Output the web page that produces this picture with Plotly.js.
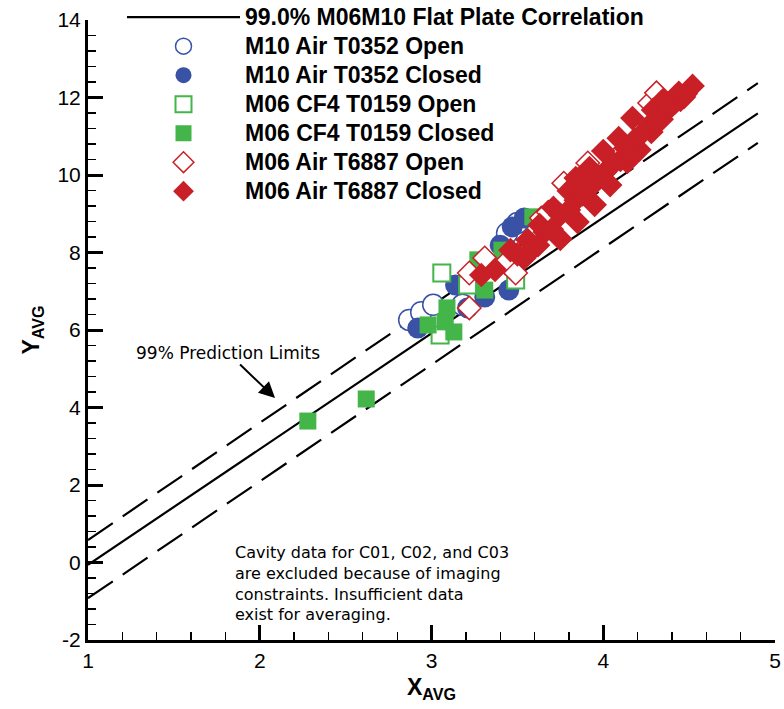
<!DOCTYPE html>
<html>
<head>
<meta charset="utf-8">
<script src="https://cdn.plot.ly/plotly-3.0.1.min.js"></script>
<style>
html, body { margin: 0; padding: 0; background: #ffffff; }
#chart { width: 784px; height: 709px; }
.legendtext { font-size: 23px !important; }
</style>
</head>
<body>
<div id="chart"></div>
<script>
// ---------- data ----------
const seriesNames = [
  '99.0% M06M10 Flat Plate Correlation',
  'M10 Air T0352 Open',
  'M10 Air T0352 Closed',
  'M06 CF4 T0159 Open',
  'M06 CF4 T0159 Closed',
  'M06 Air T6887 Open',
  'M06 Air T6887 Closed'
];

// correlation line and 99% prediction limits
const corrX  = [1, 4.9];
const corrY  = [-0.06, 11.59];
const upperX = [1, 4.9];
const upperY = [0.58, 12.37];
const lowerX = [1, 4.9];
const lowerY = [-0.92, 10.83];

// M10 Air T0352
const m10OpenX   = [2.87, 2.94, 3.01, 3.18, 3.42, 3.44, 3.50];
const m10OpenY   = [6.26, 6.46, 6.65, 6.65, 8.24, 8.50, 8.76];
const m10ClosedX = [2.92, 3.14, 3.21, 3.31, 3.45, 3.47, 3.54, 3.40];
const m10ClosedY = [6.05, 7.16, 6.57, 6.85, 7.03, 8.66, 8.89, 8.19];

// M06 CF4 T0159
const cf4OpenX   = [3.06, 3.05, 3.21, 3.49];
const cf4OpenY   = [7.47, 5.87, 7.16, 7.29];
const cf4ClosedX = [2.28, 2.62, 2.98, 3.08, 3.09, 3.13, 3.27, 3.31, 3.41, 3.59];
const cf4ClosedY = [3.65, 4.22, 6.13, 6.21, 6.57, 5.95, 7.81, 7.03, 8.06, 8.92];

// M06 Air T6887
const airOpenX = [3.22, 3.22, 3.31, 3.43, 3.49, 3.64, 3.68, 3.77, 3.91, 4.08, 4.27, 4.31];
const airOpenY = [7.47, 6.57, 7.86, 7.73, 7.47, 8.89, 9.04, 9.79, 10.31, 10.46, 11.86, 12.12];
const airClosedX = [3.29, 3.37, 3.54, 3.62, 3.66, 3.75, 3.85, 3.95, 4.04, 4.14, 4.21, 4.28, 4.34, 4.42, 4.47,
                    3.63, 3.71, 3.80, 3.84, 3.92, 4.00, 4.09, 4.17, 4.29, 4.35, 4.44, 4.52,
                    3.75, 3.84, 3.92, 4.01, 4.10, 4.18, 4.27, 4.36, 4.45, 3.46, 3.56,
                    3.50, 3.58, 3.70, 3.80, 3.88, 3.98, 4.06, 4.13, 4.22, 4.31, 4.39, 4.48];
const airClosedY = [7.42, 7.55, 7.86, 8.19, 8.53, 8.35, 8.79, 9.23, 9.74, 10.34, 10.65, 11.11, 11.44, 11.88, 12.01,
                    8.71, 9.15, 9.59, 9.92, 10.18, 10.62, 10.95, 11.47, 11.68, 11.94, 12.12, 12.30,
                    8.97, 9.35, 9.66, 10.08, 10.39, 10.90, 11.29, 11.63, 11.94, 8.06, 8.32,
                    7.95, 8.05, 8.60, 9.10, 9.50, 9.95, 10.30, 10.70, 11.05, 11.40, 11.75, 12.10];

const xTickVals = [1, 2, 3, 4, 5];
const xTickText = ['1', '2', '3', '4', '5'];
const yTickVals = [-2, 0, 2, 4, 6, 8, 10, 12, 14];
const yTickText = ['-2', '0', '2', '4', '6', '8', '10', '12', '14'];

const noteLines = [
  'Cavity data for C01, C02, and C03',
  'are excluded because of imaging',
  'constraints. Insufficient data',
  'exist for averaging.'
];
const arrowLabel = '99% Prediction Limits';

// ---------- styles ----------
const BLUE = '#3a52a6';
const GREEN = '#43b549';
const RED = '#c91f26';
const FONT = 'Liberation Sans, Arial, Helvetica, sans-serif';
const NOTE_FONT = 'DejaVu Sans, Liberation Sans, sans-serif';

const traces = [
  {x: corrX, y: corrY, mode: 'lines', name: seriesNames[0],
   line: {color: '#000', width: 2.2}, showlegend: true, hoverinfo: 'skip'},
  {x: upperX, y: upperY, mode: 'lines', showlegend: false,
   line: {color: '#000', width: 2.2, dash: '30px,12px'}, hoverinfo: 'skip'},
  {x: lowerX, y: lowerY, mode: 'lines', showlegend: false,
   line: {color: '#000', width: 2.2, dash: '30px,12px'}, hoverinfo: 'skip'},
  {x: m10OpenX, y: m10OpenY, mode: 'markers', name: seriesNames[1],
   marker: {symbol: 'circle', size: 21, color: '#ffffff', line: {color: BLUE, width: 1.5}}},
  {x: m10ClosedX, y: m10ClosedY, mode: 'markers', name: seriesNames[2],
   marker: {symbol: 'circle', size: 21, color: BLUE, line: {color: BLUE, width: 0}}},
  {x: cf4OpenX, y: cf4OpenY, mode: 'markers', name: seriesNames[3],
   marker: {symbol: 'square', size: 17, color: '#ffffff', line: {color: GREEN, width: 2}}},
  {x: cf4ClosedX, y: cf4ClosedY, mode: 'markers', name: seriesNames[4],
   marker: {symbol: 'square', size: 17, color: GREEN, line: {color: GREEN, width: 0}}},
  {x: airOpenX, y: airOpenY, mode: 'markers', name: seriesNames[5],
   marker: {symbol: 'diamond', size: 18, color: '#ffffff', line: {color: RED, width: 1.5}}},
  {x: airClosedX, y: airClosedY, mode: 'markers', name: seriesNames[6],
   marker: {symbol: 'diamond', size: 19, color: RED, line: {color: RED, width: 0}}}
];

const annotations = [
  {
    text: noteLines.join('<br>'), x: 1.844, y: 0.56, xref: 'x', yref: 'y',
    xanchor: 'left', yanchor: 'top', align: 'left', showarrow: false,
    font: {family: NOTE_FONT, size: 16, color: '#000'}
  },
  {
    text: arrowLabel, x: 2.089, y: 4.245, xref: 'x', yref: 'y',
    ax: -47, ay: -45, showarrow: true, arrowhead: 2, arrowsize: 1.6,
    arrowwidth: 2, arrowcolor: '#000',
    font: {family: NOTE_FONT, size: 17, color: '#000'}
  }
];

const layout = {
  width: 784, height: 709,
  margin: {l: 88, r: 9, t: 20, b: 69, pad: 0, autoexpand: false},
  paper_bgcolor: '#ffffff', plot_bgcolor: '#ffffff',
  font: {family: FONT, color: '#000'},
  showlegend: true,
  legend: {
    x: 0.0495, y: 1.036, xanchor: 'left', yanchor: 'top',
    bgcolor: 'rgba(0,0,0,0)', borderwidth: 0, itemwidth: 113,
    font: {family: FONT, size: 20, weight: 'bold', color: '#000'}
  },
  xaxis: {
    range: [1, 5], tickmode: 'array', tickvals: xTickVals, ticktext: xTickText,
    ticks: 'inside', ticklen: 15, tickwidth: 3, tickcolor: '#000',
    showline: true, linewidth: 3, linecolor: '#000',
    showgrid: false, zeroline: false, automargin: false,
    tickfont: {family: FONT, size: 21, color: '#000'},
    minor: {ticks: 'inside', ticklen: 8, tickwidth: 1.3, tickcolor: '#000',
            tick0: 1, dtick: 0.2, showgrid: false},
    title: {text: 'X<sub>AVG</sub>', font: {family: FONT, size: 23, weight: 'bold', color: '#000'}, standoff: 8}
  },
  yaxis: {
    range: [-2, 14], tickmode: 'array', tickvals: yTickVals, ticktext: yTickText,
    ticks: 'inside', ticklen: 15, tickwidth: 3, tickcolor: '#000',
    showline: true, linewidth: 3, linecolor: '#000',
    showgrid: false, zeroline: false, automargin: false,
    tickfont: {family: FONT, size: 21, color: '#000'},
    minor: {ticks: 'inside', ticklen: 8, tickwidth: 1.3, tickcolor: '#000',
            tick0: -2, dtick: 0.4, showgrid: false},
    title: {text: 'Y<sub>AVG</sub>', font: {family: FONT, size: 23, weight: 'bold', color: '#000'}, standoff: 12}
  },
  annotations: annotations
};

Plotly.newPlot('chart', traces, layout, {displayModeBar: false, staticPlot: true});
</script>
</body>
</html>
